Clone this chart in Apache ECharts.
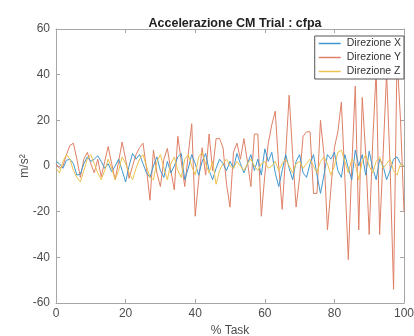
<!DOCTYPE html>
<html>
<head>
<meta charset="utf-8">
<script src="https://cdn.jsdelivr.net/npm/echarts@6/dist/echarts.min.js"></script>
<style>
  html, body { margin: 0; padding: 0; background: #fff; }
  #chart { width: 414px; height: 336px; }
</style>
</head>
<body>
<div id="chart"></div>
<script>
// % Task, 0..100
const taskPct = Array.from({ length: 101 }, (_, i) => i)

const dirX = [
  2, 1, -1, 2.5, 3, 1, -4, -3.5, 1, 4,
  2, 3, 4.5, 2, -1, 1, -2.5, 0, 3, -2,
  -7, 0, 5.5, 3, 5, 1, -3, -5, 0, 4,
  -2, -5, 2, -3, 0, 4, 5.5, -6, -1, 5,
  1, -4, 2, 5.5, -2, -6, -1, 3, 1, -2,
  2, -1, 5.5, 1, -3, 1, 5, -2, 3, -4,
  7.5, 2, 6, -3, -9, -2, 5, -1, -6, 2,
  5, -3, -5, 1, 5, -4, -12, -4, 5, 3,
  6, -2, -5, 5, -1, -6, 7, 0, 5, -4,
  6.5, -1, -6, 3, 0, -6, -2, 3, 4, 1,
  0
]

const dirY = [
  1, -1, 0, 5, 9, 10, 3, -5, 3, 6,
  1, -3, 3, -4.7, 2, 8.5, 1, -6, 2, 10.5,
  3, -5.4, 0, 5, 8, 10, -1, -15, 7, -3,
  -9, 3, 7.7, -2, -10.5, 13, 2, -9, 5, 18.5,
  -22, -6, 8, -4, 14, -2, 12, 12, 8, -8,
  -18, 6, 10, 3, 12, 2, -9, 14, 14, -22,
  -4, 10, 18, 24, 0, -19, 5, 31, 5, -18,
  -5, 13, 15, 15, -12, -12, 20, 5, -28, -10,
  8, 15, 28, -5, -41, 0, 35, -28, 30, 5,
  -30, 10, 42, -30, 5, 41, 0, -54, 48, 20,
  -20
]

const dirZ = [
  -1, -3, 2, 5, 3, -2, -5, -7, -2, 3,
  5, 1, -3, -6, -2, 3, -1, -6, -2, 4,
  1, -3, -6, -1, 3, 5, 0, -5, -6, 2,
  5, -1, -6, 1, 4, -2, -5, 3, 5, 0,
  -4, 4, 6, 1, -3, 2, -8, -2, 1, 3,
  0, -1, 2, 0, -2, 1, 3, 0, -2, 1,
  2, -1, 0, 2, -2, 1, 3, 0, -3, 1,
  2, -1, 1, 3, 0, -3, 2, 4, 1, -4,
  0, 6, 7, 2, -3, 3, 1, -6, 2, 5,
  0, -3, 2, 4, -1, 1, 3, -2, -4, 1,
  0
]

const seriesNames = ['Direzione X', 'Direzione Y', 'Direzione Z']
const seriesColors = ['#3f98cf', '#df8066', '#eec24e']

const pair = (vals) => taskPct.map((x, i) => [x, vals[i]])

const chart = echarts.init(document.getElementById('chart'))

const font = 'Liberation Sans, Arial, sans-serif'
const axisLine = { show: true, onZero: false, lineStyle: { color: '#a6a6a6', width: 1 } }
const tickIn = { show: true, inside: true, length: 4, lineStyle: { color: '#a6a6a6' } }
const labelStyle = { color: '#4d4d4d', fontSize: 12, fontFamily: font }

chart.setOption({
  backgroundColor: '#fff',
  animation: false,
  title: {
    text: 'Accelerazione CM Trial : cfpa',
    left: 230,
    top: 12,
    textAlign: 'center',
    textStyle: { fontSize: 12.5, fontWeight: 'bold', color: '#222', fontFamily: font },
  },
  legend: {
    data: seriesNames,
    orient: 'vertical',
    right: 10,
    top: 36,
    itemWidth: 22,
    itemHeight: 1.5,
    itemGap: 3,
    icon: 'rect',
    padding: [2, 3, 2, 4],
    backgroundColor: '#fff',
    borderColor: '#555',
    borderWidth: 1,
    borderRadius: 0,
    textStyle: { fontSize: 10.5, color: '#333', fontFamily: font, padding: [0, 0, 0, 1] },
  },
  grid: { left: 56, right: 10, top: 29, bottom: 33, outerBoundsMode: 'none' },
  xAxis: [
    {
      type: 'value',
      min: 0,
      max: 100,
      interval: 20,
      position: 'bottom',
      name: '% Task',
      nameLocation: 'middle',
      nameGap: 20,
      nameTextStyle: { fontSize: 12, color: '#4d4d4d', fontFamily: font },
      axisLine,
      axisTick: tickIn,
      axisLabel: { ...labelStyle, margin: 5 },
      splitLine: { show: false },
    },
    {
      type: 'value',
      min: 0,
      max: 100,
      interval: 20,
      position: 'top',
      axisLine,
      axisTick: tickIn,
      axisLabel: { show: false },
      splitLine: { show: false },
    },
  ],
  yAxis: [
    {
      type: 'value',
      min: -60,
      max: 60,
      interval: 20,
      position: 'left',
      name: 'm/s²',
      nameLocation: 'middle',
      nameGap: 25,
      nameMoveOverlap: false,
      nameTextStyle: { fontSize: 12, color: '#4d4d4d', fontFamily: font },
      axisLine,
      axisTick: tickIn,
      axisLabel: { ...labelStyle, margin: 6 },
      splitLine: { show: false },
    },
    {
      type: 'value',
      min: -60,
      max: 60,
      interval: 20,
      position: 'right',
      axisLine,
      axisTick: tickIn,
      axisLabel: { show: false },
      splitLine: { show: false },
    },
  ],
  series: [dirX, dirY, dirZ].map((vals, i) => ({
    name: seriesNames[i],
    type: 'line',
    data: pair(vals),
    showSymbol: false,
    symbol: 'none',
    color: seriesColors[i],
    lineStyle: { width: 1, color: seriesColors[i] },
    z: i === 1 ? 2 : 3,
  })),
})
</script>
</body>
</html>
